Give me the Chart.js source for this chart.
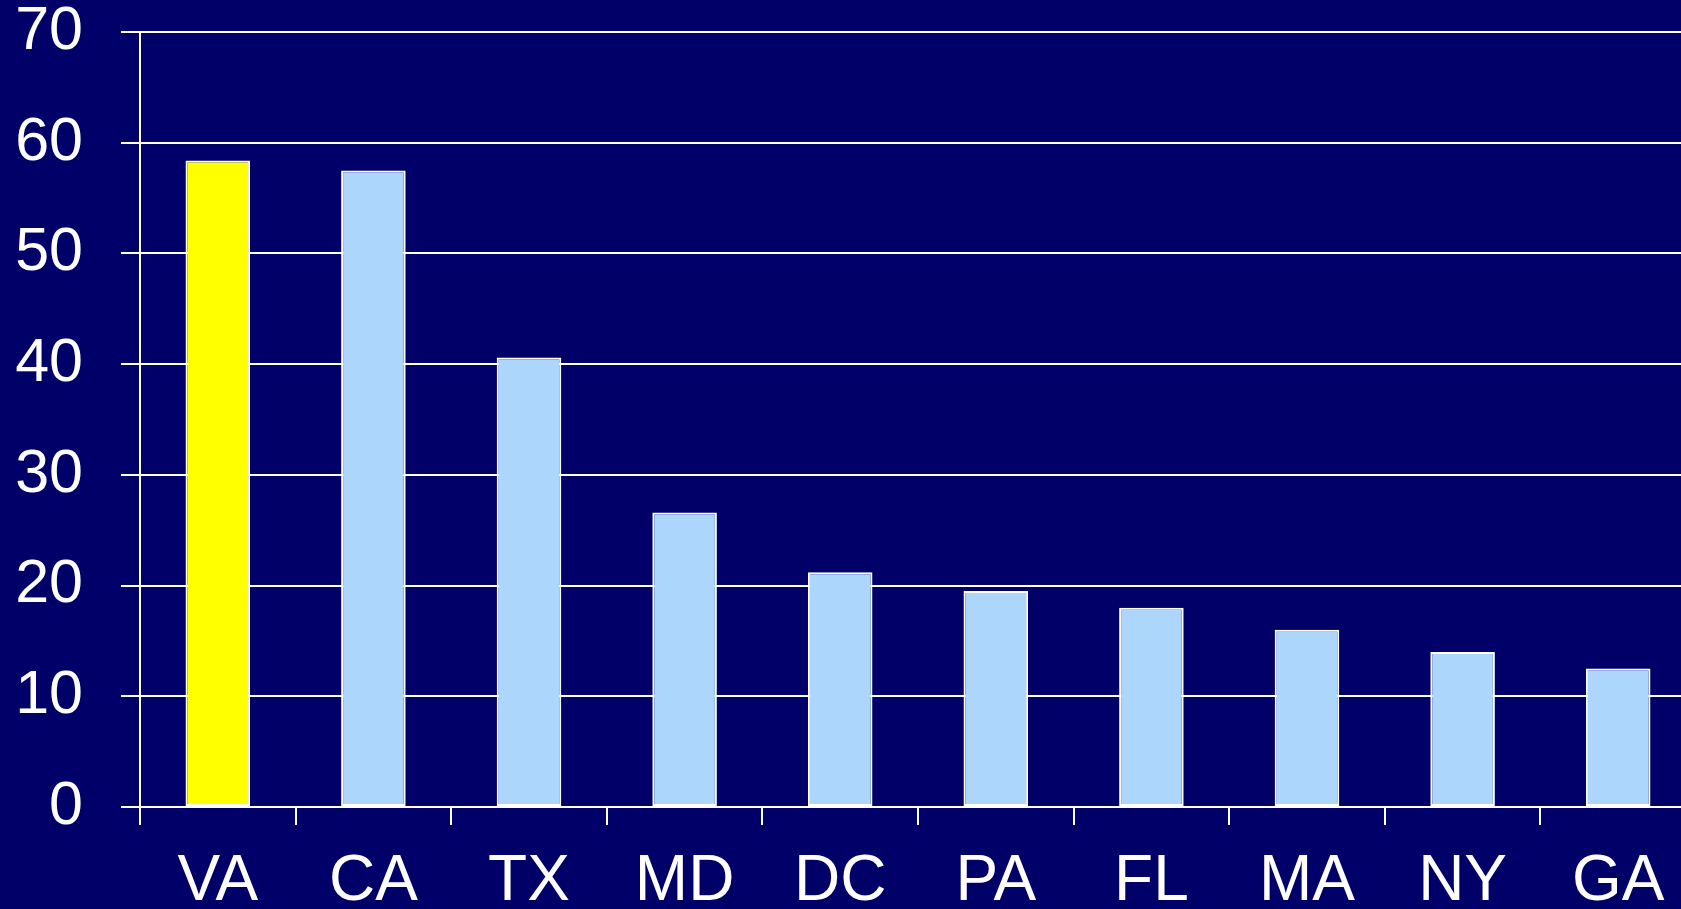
<!DOCTYPE html>
<html>
<head>
<meta charset="utf-8">
<script src="https://cdn.jsdelivr.net/npm/chart.js@4"></script>
<style>
  html, body { margin: 0; padding: 0; background: #000068; overflow: hidden; }
  #wrap { width: 1700px; height: 909px; }
</style>
</head>
<body>
<div id="wrap"><canvas id="chart" width="1700" height="909"></canvas></div>
<script>
let states = ['VA', 'CA', 'TX', 'MD', 'DC', 'PA', 'FL', 'MA', 'NY', 'GA'];
let values = [58.4, 57.5, 40.6, 26.6, 21.2, 19.5, 18.0, 16.0, 14.0, 12.5];
let yTicks = [0, 10, 20, 30, 40, 50, 60, 70];

let barColors = states.map(s => s === 'VA' ? '#ffff00' : '#add6fd');

let ctx = document.getElementById('chart').getContext('2d');

let chart = new Chart(ctx, {
    type: 'bar',
    data: {
        labels: states,
        datasets: [{
            data: values,
            backgroundColor: barColors,
            borderColor: '#ffffff',
            borderWidth: 2,
            borderSkipped: false,
            categoryPercentage: 1,
            barPercentage: 0.415
        }]
    },
    options: {
        responsive: false,
        animation: false,
        layout: { padding: { top: 32, right: 4, left: 0, bottom: 0 } },
        plugins: { legend: { display: false }, tooltip: { enabled: false } },
        scales: {
            x: {
                grid: {
                    drawOnChartArea: false,
                    drawTicks: true,
                    tickLength: 18,
                    color: '#ffffff',
                    lineWidth: 2
                },
                border: { color: '#ffffff', width: 2 },
                ticks: {
                    color: '#ffffff',
                    font: { family: 'Liberation Sans', size: 64 },
                    padding: 19
                },
                afterFit: s => { s.height = 102; }
            },
            y: {
                min: 0,
                max: 70,
                afterBuildTicks: s => { s.ticks = yTicks.map(v => ({ value: v })); },
                grid: {
                    color: '#ffffff',
                    lineWidth: 2,
                    tickLength: 19
                },
                border: { color: '#ffffff', width: 2 },
                ticks: {
                    color: '#ffffff',
                    font: { family: 'Liberation Sans', size: 61 },
                    padding: 38
                },
                afterFit: s => {
                    s.width = 140;
                    s.paddingTop = 0;
                    s.paddingBottom = 0;
                }
            }
        }
    }
});
</script>
</body>
</html>
